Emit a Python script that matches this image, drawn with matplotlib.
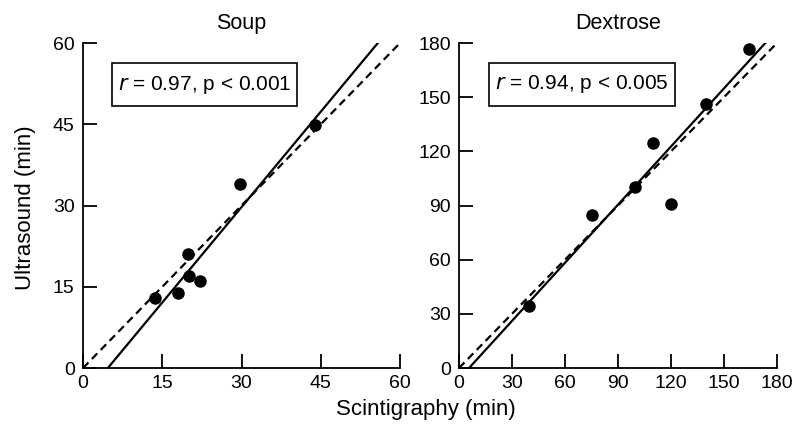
import matplotlib
matplotlib.use('Agg')
import matplotlib.pyplot as plt
from matplotlib.patches import Rectangle

plt.rcParams['font.family'] = ['Liberation Sans', 'DejaVu Sans']

# soup meal (min)
soup_scint = [13.7, 18.0, 19.8, 20.1, 22.1, 29.8, 43.9]
soup_us = [12.9, 13.9, 21.0, 17.0, 16.0, 34.0, 44.9]
soup_fit_x = [4.7, 55.8]
soup_fit_y = [0, 60]
soup_ident = [0, 60]
soup_ticks = [0, 15, 30, 45, 60]
soup_text = '$r$ = 0.97, p < 0.001'

# dextrose meal (min)
dex_scint = [39.9, 75.2, 99.7, 109.7, 120.1, 139.8, 164.0]
dex_us = [34.2, 84.7, 100.0, 124.9, 90.8, 146.3, 176.8]
dex_fit_x = [5.7, 173.4]
dex_fit_y = [0, 180]
dex_ident = [0, 180]
dex_ticks = [0, 30, 60, 90, 120, 150, 180]
dex_text = '$r$ = 0.94, p < 0.005'

fig = plt.figure(figsize=(7.93, 4.24), dpi=100)
ax1 = fig.add_axes([0.1047, 0.132, 0.3997, 0.7665])
ax2 = fig.add_axes([0.5788, 0.132, 0.401, 0.7665])


def draw_panel(ax, xs, ys, fit_x, fit_y, ident, ticks, title, label, box):
    ax.plot(ident, ident, color='black', lw=1.6, ls=(0, (3.5, 2.2)))
    ax.plot(fit_x, fit_y, color='black', lw=1.6)
    ax.scatter(xs, ys, s=64, color='black', zorder=3)
    ax.set_xlim(ticks[0], ticks[-1])
    ax.set_ylim(ticks[0], ticks[-1])
    ax.set_xticks(ticks)
    ax.set_yticks(ticks)
    for s in ['top', 'right']:
        ax.spines[s].set_visible(False)
    for s in ['left', 'bottom']:
        ax.spines[s].set_linewidth(1.3)
    ax.tick_params(direction='in', length=10, width=1.3, labelsize=14)
    ax.tick_params(axis='x', pad=5)
    ax.tick_params(axis='y', pad=6)
    ax.set_title(title, fontsize=15.5, pad=10)
    # boxed correlation label (axes fractions)
    x0, y0, x1, y1 = box
    ax.add_patch(Rectangle((x0, y0), x1 - x0, y1 - y0, transform=ax.transAxes,
                           fc='white', ec='black', lw=1.2, zorder=4))
    ax.text((x0 + x1) / 2, (y0 + y1) / 2, label, fontsize=15, ha='center',
            va='center', transform=ax.transAxes, zorder=5)


draw_panel(ax1, soup_scint, soup_us, soup_fit_x, soup_fit_y, soup_ident,
           soup_ticks, 'Soup', soup_text, (0.0915, 0.806, 0.675, 0.938))
draw_panel(ax2, dex_scint, dex_us, dex_fit_x, dex_fit_y, dex_ident,
           dex_ticks, 'Dextrose', dex_text, (0.094, 0.806, 0.679, 0.94))

fig.text(0.537, 1 - 410 / 424, 'Scintigraphy (min)', fontsize=16,
         ha='center', va='center')
fig.text(0.032, 1 - 208 / 424, 'Ultrasound (min)', fontsize=16,
         ha='center', va='center', rotation=90)

fig.savefig('out.png', dpi=100)
